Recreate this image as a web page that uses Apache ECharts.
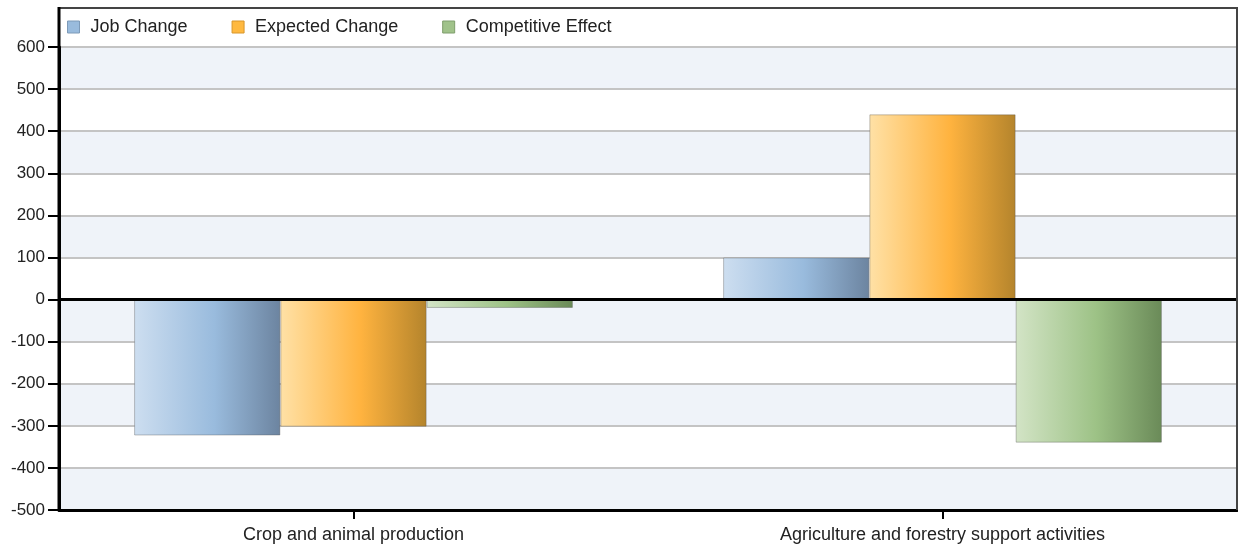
<!DOCTYPE html>
<html>
<head>
<meta charset="utf-8">
<script src="https://cdn.jsdelivr.net/npm/echarts@6/dist/echarts.min.js"></script>
<style>
html,body{margin:0;padding:0;background:#fff;}
#c{width:1238px;height:544px;}
</style>
</head>
<body>
<div id="c"></div>
<script>
const categories = ['Crop and animal production', 'Agriculture and forestry support activities'];
const jobChange = [-323, 100];
const expectedChange = [-302, 440];
const competitiveEffect = [-20, -340];
const seriesNames = ['Job Change', 'Expected Change', 'Competitive Effect'];
const yTicks = { min: -500, max: 600, interval: 100 };

const FONT = 'Liberation Sans, Arial, sans-serif';
function grad(a, b, c) {
  return new echarts.graphic.LinearGradient(0, 0, 1, 0, [
    { offset: 0, color: a }, { offset: 0.55, color: b }, { offset: 1, color: c }
  ]);
}
const palettes = [
  { g: ['#cddef0', '#99bbdd', '#6c84a0'], solid: '#99bbdd', border: '#7d9ab8' },
  { g: ['#ffe1a6', '#ffb33f', '#b4842c'], solid: '#ffb940', border: '#d8962a' },
  { g: ['#d3e4c6', '#9dc286', '#6a8a58'], solid: '#a0c28a', border: '#7f9e6c' }
];
const values = [jobChange, expectedChange, competitiveEffect];

const chart = echarts.init(document.getElementById('c'), null, { renderer: 'canvas' });
const series = seriesNames.map((name, i) => ({
  name: name,
  type: 'bar',
  data: values[i],
  barGap: '0%',
  barCategoryGap: '25.5%',
  itemStyle: {
    color: grad(...palettes[i].g),
    borderColor: 'rgba(80,80,80,0.35)',
    borderWidth: 1
  },
  emphasis: { disabled: true },
  markLine: i === 0 ? {
    silent: true, symbol: 'none', label: { show: false },
    lineStyle: { color: '#000', width: 3, type: 'solid' },
    data: [{ yAxis: 0 }]
  } : undefined
}));

chart.setOption({
  animation: false,
  textStyle: { fontFamily: FONT },
  grid: { left: 59, right: 1, top: 47, bottom: 34, containLabel: false },
  legend: {
    left: 67, top: 18, padding: 0,
    itemWidth: 12, itemHeight: 12, itemGap: 44,
    icon: 'rect',
    textStyle: { fontSize: 18, color: '#222', fontFamily: FONT, padding: [0, 0, 0, 6] },
    data: seriesNames.map((n, i) => ({ name: n, itemStyle: { color: palettes[i].solid, borderColor: palettes[i].border, borderWidth: 1 } }))
  },
  xAxis: {
    type: 'category',
    data: categories,
    axisLine: { show: true, onZero: false, lineStyle: { color: '#000', width: 3 } },
    axisTick: { show: true, inside: false, alignWithLabel: true, interval: 0, length: 9, lineStyle: { color: '#000', width: 2 } },
    axisLabel: { fontSize: 18, color: '#222', margin: 16, fontFamily: FONT },
    splitLine: { show: false }
  },
  yAxis: {
    type: 'value',
    min: yTicks.min, max: yTicks.max, interval: yTicks.interval,
    axisLine: { show: true, lineStyle: { color: '#000', width: 3 } },
    axisTick: { show: true, length: 11, lineStyle: { color: '#000', width: 2 } },
    axisLabel: { fontSize: 17, color: '#222', margin: 14, fontFamily: FONT },
    splitLine: { show: true, lineStyle: { color: '#c4c4c4', width: 2 } },
    splitArea: { show: true, areaStyle: { color: ['#eff3f9', '#ffffff'] } }
  },
  graphic: [
    { type: 'polyline', silent: true, z: 100,
      shape: { points: [[59, 510], [59, 8], [1237, 8], [1237, 510]] },
      style: { stroke: '#444', lineWidth: 2, fill: null } },
    { type: 'line', silent: true, z: 101,
      shape: { x1: 59, y1: 7, x2: 59, y2: 510 },
      style: { stroke: '#000', lineWidth: 3 } }
  ],
  series: series
});
</script>
</body>
</html>
